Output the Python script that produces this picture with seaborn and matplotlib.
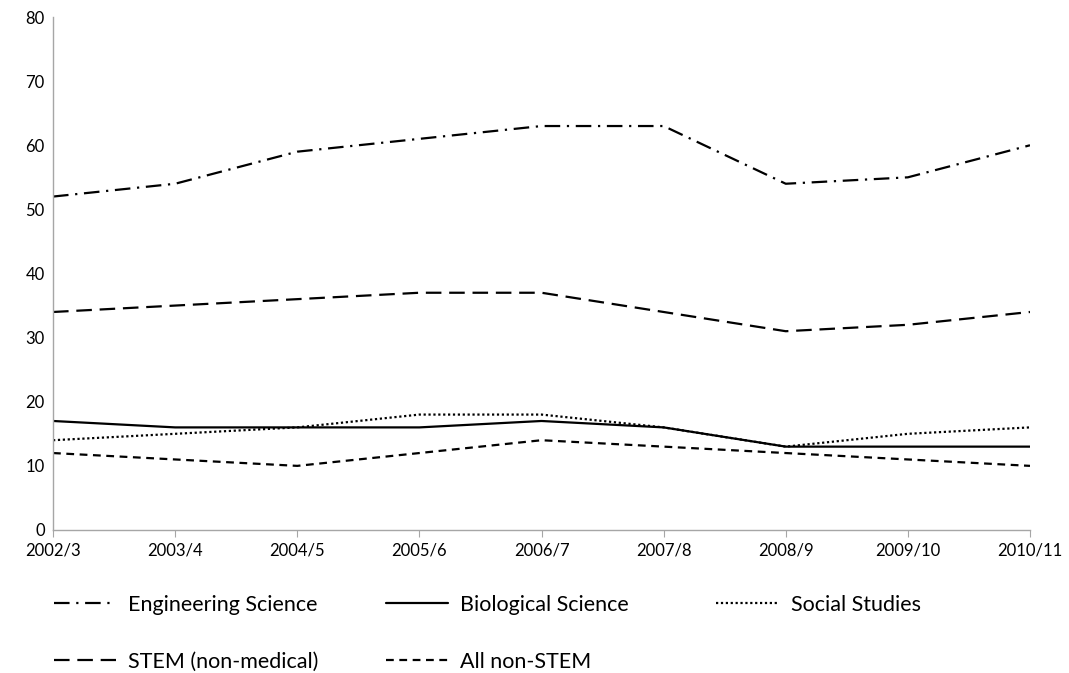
import pandas as pd
import matplotlib.pyplot as plt
import seaborn as sns

# data
years = ["2002/3", "2003/4", "2004/5", "2005/6", "2006/7",
         "2007/8", "2008/9", "2009/10", "2010/11"]
engineering = [52, 54, 59, 61, 63, 63, 54, 55, 60]
biological = [17, 16, 16, 16, 17, 16, 13, 13, 13]
social = [14, 15, 16, 18, 18, 16, 13, 15, 16]
stem = [34, 35, 36, 37, 37, 34, 31, 32, 34]
non_stem = [12, 11, 10, 12, 14, 13, 12, 11, 10]

series = [
    ("Engineering Science", engineering, (0, (7, 3, 1, 3))),
    ("Biological Science", biological, "-"),
    ("Social Studies", social, (0, (1, 1.2))),
    ("STEM (non-medical)", stem, (0, (7, 3.5))),
    ("All non-STEM", non_stem, (0, (3.5, 2.5))),
]

sns.set_style("white")
plt.rcParams['font.family'] = ['Lato', 'DejaVu Sans']
plt.rcParams['text.color'] = 'black'
plt.rcParams['xtick.color'] = 'black'
plt.rcParams['ytick.color'] = 'black'

fig, ax = plt.subplots(figsize=(10.69, 6.73), dpi=100)
fig.subplots_adjust(left=0.0496, right=0.9635, top=0.9747, bottom=0.2125)

handles = {}
for name, values, ls in series:
    df = pd.DataFrame({"year": years, "value": values})
    sns.lineplot(data=df, x="year", y="value", ax=ax, color="black",
                 linewidth=1.6, linestyle=ls, sort=False, label=name)
    handles[name] = ax.lines[-1]

ax.set_xlim(0, len(years) - 1)
ax.set_ylim(0, 80)
ax.set_yticks(range(0, 81, 10))
ax.set_xlabel("")
ax.set_ylabel("")

for side in ["top", "right"]:
    ax.spines[side].set_visible(False)
for side in ["left", "bottom"]:
    ax.spines[side].set_color("#a6a6a6")
    ax.spines[side].set_linewidth(1.0)

ax.tick_params(axis="x", direction="out", length=5, color="#a6a6a6",
               labelsize=12, pad=4, bottom=True, labelcolor="black")
ax.tick_params(axis="y", length=0, labelsize=12, pad=6, labelcolor="black")

# legend below the plot: three columns, placed one by one
ax.get_legend().remove()
columns = [
    (["Engineering Science", "STEM (non-medical)"], 0.0505),
    (["Biological Science", "All non-STEM"], 0.361),
    (["Social Studies"], 0.670),
]
for names, x0 in columns:
    fig.legend([handles[n] for n in names], names, loc="upper left",
               bbox_to_anchor=(x0, 0.116), frameon=False, fontsize=15.5,
               handlelength=2.9, handletextpad=0.55, labelspacing=1.72,
               borderpad=0, borderaxespad=0)

fig.savefig("out.png", dpi=100)
